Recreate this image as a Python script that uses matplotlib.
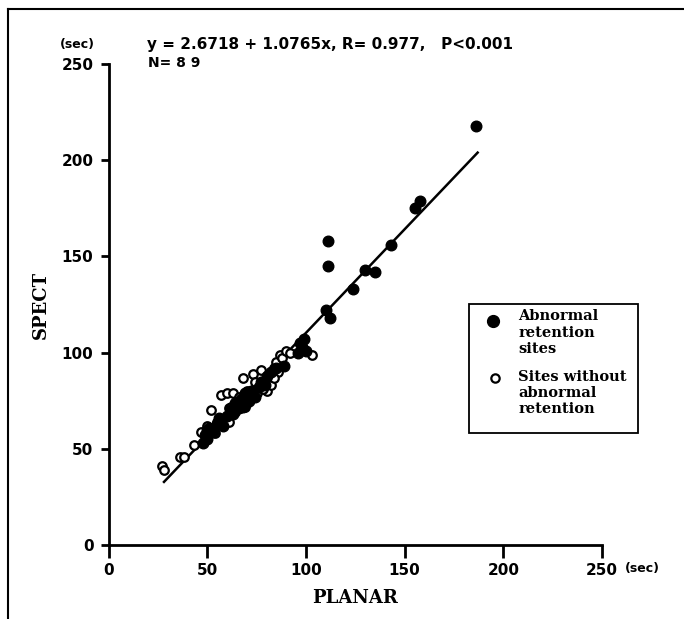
import matplotlib
matplotlib.use("Agg")
import matplotlib.pyplot as plt
import matplotlib.lines as mlines
import matplotlib.patches as mpatches
import numpy as np

# abnormal retention sites (filled)
filled_x = [48, 49, 50, 50, 51, 53, 55, 56, 58, 60, 62, 63, 64, 66, 67, 68, 69, 71, 72, 74, 76, 77,
            79, 80, 82, 85, 89, 96, 97, 98, 99, 100, 110, 111, 111, 112, 124, 130, 135, 143, 155, 158, 186]
filled_y = [53, 57, 55, 60, 61, 59, 63, 66, 62, 67, 70, 68, 74, 71, 76, 72, 79, 75, 80, 77, 82, 85,
            83, 88, 90, 92, 93, 100, 105, 103, 107, 101, 122, 145, 158, 118, 133, 143, 142, 156, 175, 179, 218]

# sites without abnormal retention (open)
open_x = [27, 28, 36, 38, 43, 47, 50, 52, 54, 57, 58, 60, 61, 61, 63, 64, 65, 66, 68, 69, 70, 72, 73,
          74, 75, 76, 77, 78, 79, 80, 81, 82, 83, 84, 85, 86, 87, 88, 90, 92, 103, 55, 62, 70, 78, 84]
open_y = [41, 39, 46, 46, 52, 59, 62, 70, 58, 78, 65, 79, 71, 64, 79, 69, 73, 77, 87, 72, 80, 77, 89,
          85, 79, 82, 91, 85, 84, 80, 86, 83, 88, 92, 95, 90, 99, 97, 101, 100, 99, 64, 72, 74, 81, 87]

fit_a = 2.6718
fit_b = 1.0765
fit_range = [28, 187]

ticks = [0, 50, 100, 150, 200, 250]

fig = plt.figure(figsize=(6.84, 6.19), dpi=100)
ax = fig.add_axes([0.159, 0.1195, 0.721, 0.777])

sans = "DejaVu Sans"
serif = "DejaVu Serif"

xf = np.array(fit_range, dtype=float)
ax.plot(xf, fit_a + fit_b * xf, color="black", lw=1.8, zorder=2)

ax.scatter(open_x, open_y, s=38, facecolors="white", edgecolors="black", linewidths=1.6, zorder=3)
ax.scatter(filled_x, filled_y, s=58, color="black", zorder=4)

ax.set_xlim(0, 250)
ax.set_ylim(0, 250)
ax.set_xticks(ticks)
ax.set_yticks(ticks)
ax.set_xticklabels([str(t) for t in ticks], fontfamily=sans, fontweight="bold", fontsize=11)
ax.set_yticklabels([str(t) for t in ticks], fontfamily=sans, fontweight="bold", fontsize=11)
ax.tick_params(axis="x", direction="out", length=9, width=2, pad=4)
ax.tick_params(axis="y", direction="out", length=6, width=2, pad=5)
for s in ["top", "right"]:
    ax.spines[s].set_visible(False)
for s in ["left", "bottom"]:
    ax.spines[s].set_linewidth(2)

ax.set_xlabel("PLANAR", fontfamily=serif, fontweight="bold", fontsize=13, labelpad=8)
ax.set_ylabel("SPECT", fontfamily=serif, fontweight="bold", fontsize=13, labelpad=8)

# units
fig.text(0.088, 0.928, "(sec)", fontfamily=sans, fontweight="bold", fontsize=9, ha="left", va="center")
fig.text(0.913, 0.082, "(sec)", fontfamily=sans, fontweight="bold", fontsize=9, ha="left", va="center")

# regression text
fig.text(0.215, 0.928, "y = 2.6718 + 1.0765x, R= 0.977,   P<0.001", fontfamily=sans,
         fontweight="bold", fontsize=11, ha="left", va="center")
fig.text(0.217, 0.899, "N= 8 9", fontfamily=sans, fontweight="bold", fontsize=10, ha="left", va="center")

# legend drawn by hand
box = mpatches.Rectangle((0.686, 0.300), 0.247, 0.209, transform=fig.transFigure,
                         fill=False, edgecolor="black", lw=1.3)
fig.add_artist(box)
fig.add_artist(mlines.Line2D([0.721], [0.482], transform=fig.transFigure, marker="o",
                             markersize=8.5, color="black", linestyle="none"))
fig.add_artist(mlines.Line2D([0.723], [0.390], transform=fig.transFigure, marker="o",
                             markersize=6, markerfacecolor="white", markeredgecolor="black",
                             markeredgewidth=1.6, linestyle="none"))
fig.text(0.758, 0.500, "Abnormal\nretention\nsites", fontfamily=serif, fontweight="bold",
         fontsize=10.5, ha="left", va="top", linespacing=1.2)
fig.text(0.758, 0.403, "Sites without\nabnormal\nretention", fontfamily=serif, fontweight="bold",
         fontsize=10.5, ha="left", va="top", linespacing=1.2)

# page frame (left and top)
fig.add_artist(mlines.Line2D([0.012, 0.012], [0.0, 0.986], transform=fig.transFigure, color="black", lw=1.5))
fig.add_artist(mlines.Line2D([0.012, 1.0], [0.986, 0.986], transform=fig.transFigure, color="black", lw=1.5))

fig.savefig("out.png", dpi=100)
